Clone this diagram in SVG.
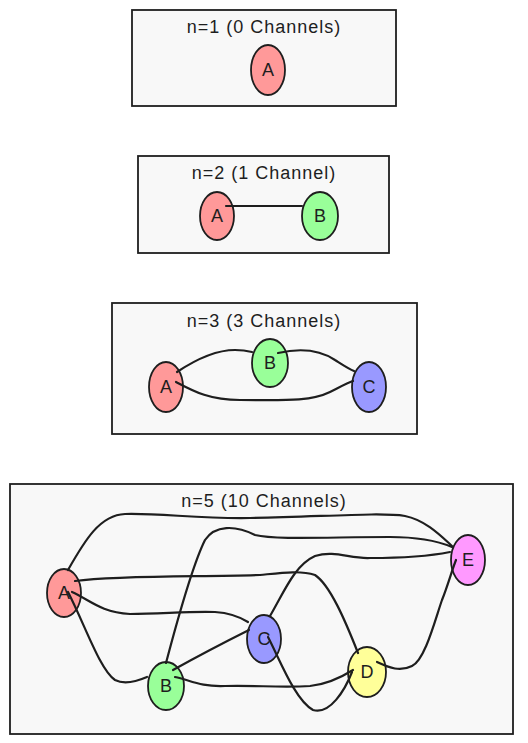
<svg xmlns="http://www.w3.org/2000/svg" width="528" height="743" viewBox="0 0 528 743">
<style>
.frame{fill:#f8f8f8;stroke:#1e1e1e;stroke-width:1.8}
.title{font-family:"Liberation Sans",sans-serif;font-size:18px;fill:#1e1e1e;text-anchor:middle;letter-spacing:1px}
.node{stroke:#1e1e1e;stroke-width:1.8}
.lbl{font-family:"Liberation Sans",sans-serif;font-size:18px;fill:#1e1e1e;text-anchor:middle;dominant-baseline:central}
.edge{fill:none;stroke:#1e1e1e;stroke-width:2.2;stroke-linecap:round}
.a{fill:#ff9999}.b{fill:#99ff99}.c{fill:#9999ff}.d{fill:#ffff99}.e{fill:#ff99ff}
</style>
<rect x="0" y="0" width="528" height="743" fill="#ffffff"/>

<g id="frame1">
<rect class="frame" x="132" y="10" width="264" height="96"/>
<text class="title" x="264" y="33">n=1 (0 Channels)</text>
</g>
<g id="frame2">
<rect class="frame" x="138" y="156" width="251" height="97"/>
<text class="title" x="264" y="179">n=2 (1 Channel)</text>
</g>
<g id="frame3">
<rect class="frame" x="112" y="303" width="305" height="131"/>
<text class="title" x="264" y="327">n=3 (3 Channels)</text>
</g>
<g id="frame5">
<rect class="frame" x="10" y="484" width="503" height="250"/>
<text class="title" x="264" y="507">n=5 (10 Channels)</text>
</g>

<g id="n1-A"><ellipse class="node a" cx="268" cy="70" rx="17" ry="25"/><text class="lbl" x="268" y="70">A</text></g>
<g id="n2-A"><ellipse class="node a" cx="217" cy="216" rx="17" ry="24"/><text class="lbl" x="217" y="216">A</text></g>
<g id="n2-B"><ellipse class="node b" cx="320" cy="216" rx="18" ry="24"/><text class="lbl" x="320" y="216">B</text></g>
<g id="n3-A"><ellipse class="node a" cx="166" cy="387" rx="17" ry="25"/><text class="lbl" x="166" y="387">A</text></g>
<g id="n3-B"><ellipse class="node b" cx="270" cy="363" rx="18" ry="24"/><text class="lbl" x="270" y="363">B</text></g>
<g id="n3-C"><ellipse class="node c" cx="369" cy="387" rx="17" ry="25"/><text class="lbl" x="369" y="387">C</text></g>
<g id="n5-A"><ellipse class="node a" cx="64" cy="593" rx="17" ry="24"/><text class="lbl" x="64" y="593">A</text></g>
<g id="n5-B"><ellipse class="node b" cx="166" cy="686" rx="18" ry="24"/><text class="lbl" x="166" y="686">B</text></g>
<g id="n5-C"><ellipse class="node c" cx="264" cy="639" rx="17" ry="24"/><text class="lbl" x="264" y="639">C</text></g>
<g id="n5-D"><ellipse class="node d" cx="367" cy="672" rx="19" ry="25"/><text class="lbl" x="367" y="672">D</text></g>
<g id="n5-E"><ellipse class="node e" cx="468" cy="560" rx="17" ry="25"/><text class="lbl" x="468" y="560">E</text></g>

<g id="connectors">
<!-- n=2 -->
<path class="edge" d="M226,206 L302,206"/>
<!-- n=3 -->
<path class="edge" d="M177,372 C195,360 215,350 235,350 C242,350 248,351 252,352"/>
<path class="edge" d="M278,353 C300,348 320,350 335,360 C343,365 349,369 354,371"/>
<path class="edge" d="M176,382 C195,392 210,400 240,400 C280,400 310,402 330,392 C340,387 347,383 353,381"/>
<!-- n=5 -->
<path class="edge" d="M68,570 C85,540 100,515 125,514 C160,513 200,519 250,518 C320,517 380,512 405,516 C425,520 440,535 452,546"/>
<path class="edge" d="M166,663 C180,610 195,560 205,540 C215,525 235,525 255,535 C275,540 330,537 390,537 C420,537 440,542 452,547"/>
<path class="edge" d="M270,616 C285,590 295,565 315,556 C335,550 350,559 370,558 C400,558 430,556 450,552"/>
<path class="edge" d="M75,581 C120,575 200,577 260,575 C280,573 300,570 315,575 C330,585 345,620 358,653"/>
<path class="edge" d="M72,592 C90,600 100,612 130,614 C160,614 190,611 215,612 C230,613 240,617 248,622"/>
<path class="edge" d="M68,592 C85,625 100,670 115,680 C125,685 140,680 147,677"/>
<path class="edge" d="M173,670 C200,655 225,642 249,630"/>
<path class="edge" d="M175,677 C190,680 200,687 225,686 C255,685 280,688 310,686 C330,684 345,675 353,670"/>
<path class="edge" d="M268,637 C280,660 295,700 313,710 C330,715 345,690 352,672"/>
<path class="edge" d="M377,662 C390,668 400,672 412,666 C425,660 435,620 442,600 C448,585 452,570 456,560"/>
</g>
</svg>
